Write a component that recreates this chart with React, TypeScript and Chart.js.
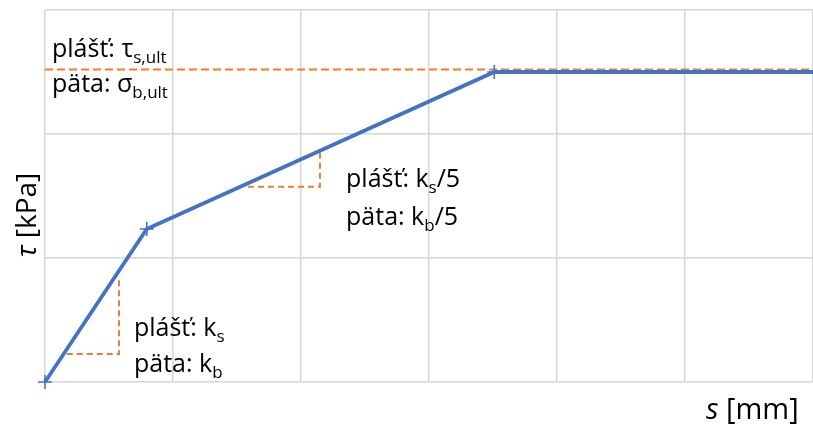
import React, { useEffect, useRef } from "react";
import { Chart, registerables } from "chart.js";

Chart.register(...registerables);

// Curve τ(s): linear, softened, then plateau at ultimate value
const curveS = [0, 0.795, 3.51, 6];
const curveTau = [0, 1.234, 2.5, 2.5];
const curveMarkers = [7, 7, 7, 0];

// Ultimate value (dashed)
const ultS = [0, 6];
const ultTau = [2.52, 2.52];

// Slope triangles
const tri1S = [0.17, 0.578, 0.578];
const tri1Tau = [0.226, 0.226, 0.847];
const tri2S = [1.586, 2.148, 2.148];
const tri2Tau = [1.575, 1.575, 1.865];

// Axis ranges (no tick labels)
const xMin = 0, xMax = 6, yMin = 0, yMax = 3;

// Annotation texts: [main, subscript, after]
const label1Lines: [string, string, string][] = [
  ["plášť: τ", "s,ult", ""],
  ["päta: σ", "b,ult", ""],
];
const label2Lines: [string, string, string][] = [
  ["plášť: k", "s", "/5"],
  ["päta: k", "b", "/5"],
];
const label3Lines: [string, string, string][] = [
  ["plášť: k", "s", ""],
  ["päta: k", "b", ""],
];
const labelAnchorS = [0.0547, 2.352, 0.695];
const labelAnchorTau = [2.621, 1.573, 0.371];
const labelLineGap = [35, 38, 36];

const BLUE = "#4472C4";
const ORANGE = "#ED7D31";
const FONT = "'Open Sans', sans-serif";
const MAIN_PX = 25;
const SUB_PX = 17;
const YTITLE_PX = 28;
const XTITLE_PX = 29;

const zip = (xs: number[], ys: number[]) => xs.map((x, i) => ({ x, y: ys[i] }));

export default function App() {
  const ref = useRef<HTMLCanvasElement | null>(null);

  useEffect(() => {
    if (!ref.current) return;
    const textPlugin = {
      id: "texts",
      afterDatasetsDraw(chart: any) {
        const ctx = chart.ctx as CanvasRenderingContext2D;
        const xs = chart.scales.x;
        const ys = chart.scales.y;
        const groups = [label1Lines, label2Lines, label3Lines];
        ctx.save();
        ctx.fillStyle = "#000";
        ctx.textBaseline = "alphabetic";
        ctx.textAlign = "left";
        groups.forEach((lines, gi) => {
          const px = xs.getPixelForValue(labelAnchorS[gi]);
          const py0 = ys.getPixelForValue(labelAnchorTau[gi]);
          lines.forEach((ln, li) => {
            const py = py0 + li * labelLineGap[gi];
            let cx = px;
            ctx.font = `${MAIN_PX}px ${FONT}`;
            ctx.fillText(ln[0], cx, py);
            cx += ctx.measureText(ln[0]).width;
            ctx.font = `${SUB_PX}px ${FONT}`;
            ctx.fillText(ln[1], cx, py + 6);
            cx += ctx.measureText(ln[1]).width;
            ctx.font = `${MAIN_PX}px ${FONT}`;
            ctx.fillText(ln[2], cx, py);
          });
        });
        // y-axis title
        ctx.save();
        ctx.translate(36, 215);
        ctx.rotate(-Math.PI / 2);
        ctx.font = `italic ${YTITLE_PX}px ${FONT}`;
        const t1 = "τ";
        const t2 = " [kPa]";
        const w1 = ctx.measureText(t1).width;
        ctx.font = `${YTITLE_PX}px ${FONT}`;
        const w2 = ctx.measureText(t2).width;
        const sx = -(w1 + w2) / 2;
        ctx.font = `italic ${YTITLE_PX}px ${FONT}`;
        ctx.fillText(t1, sx, 0);
        ctx.font = `${YTITLE_PX}px ${FONT}`;
        ctx.fillText(t2, sx + w1, 0);
        ctx.restore();
        // x-axis title
        ctx.font = `italic ${XTITLE_PX}px ${FONT}`;
        ctx.fillText("s", 706, 419);
        const ws = ctx.measureText("s").width;
        ctx.font = `${XTITLE_PX}px ${FONT}`;
        ctx.fillText(" [mm]", 706 + ws, 419);
        ctx.restore();
      },
    };

    const chart = new Chart(ref.current, {
      type: "scatter",
      data: {
        datasets: [
          {
            data: zip(ultS, ultTau),
            showLine: true,
            borderColor: ORANGE,
            borderWidth: 2,
            borderDash: [8, 4],
            pointRadius: 0,
            clip: false as any,
            order: 2,
          },
          {
            data: zip(tri1S, tri1Tau),
            showLine: true,
            borderColor: ORANGE,
            borderWidth: 2,
            borderDash: [6, 4],
            pointRadius: 0,
            order: 2,
          },
          {
            data: zip(tri2S, tri2Tau),
            showLine: true,
            borderColor: ORANGE,
            borderWidth: 2,
            borderDash: [6, 4],
            pointRadius: 0,
            order: 2,
          },
          {
            data: zip(curveS, curveTau),
            showLine: true,
            borderColor: BLUE,
            borderWidth: 3.8,
            pointStyle: "cross",
            pointRadius: curveMarkers,
            pointHoverRadius: curveMarkers,
            pointBorderColor: BLUE,
            pointBorderWidth: 1.6,
            pointBackgroundColor: BLUE,
            clip: false as any,
            order: 1,
          },
        ],
      },
      options: {
        animation: false,
        responsive: false,
        devicePixelRatio: 1,
        layout: { autoPadding: false, padding: { left: 45, top: 10, right: 0, bottom: 45 } },
        plugins: { legend: { display: false }, tooltip: { enabled: false } },
        scales: {
          x: {
            type: "linear",
            min: xMin,
            max: xMax,
            ticks: { display: false, stepSize: 1 },
            grid: { color: "#d6d6d6", lineWidth: 1.5, drawTicks: false },
            border: { display: false },
          },
          y: {
            type: "linear",
            min: yMin,
            max: yMax,
            ticks: { display: false, stepSize: 1 },
            grid: { color: "#d6d6d6", lineWidth: 1.5, drawTicks: false },
            border: { display: false },
          },
        },
      },
      plugins: [textPlugin],
    } as any);
    return () => chart.destroy();
  }, []);

  return (
    <div style={{ position: "fixed", left: 0, top: 0, width: 813, height: 427, background: "#fff" }}>
      <canvas ref={ref} width={813} height={427} style={{ width: 813, height: 427 }} />
    </div>
  );
}
